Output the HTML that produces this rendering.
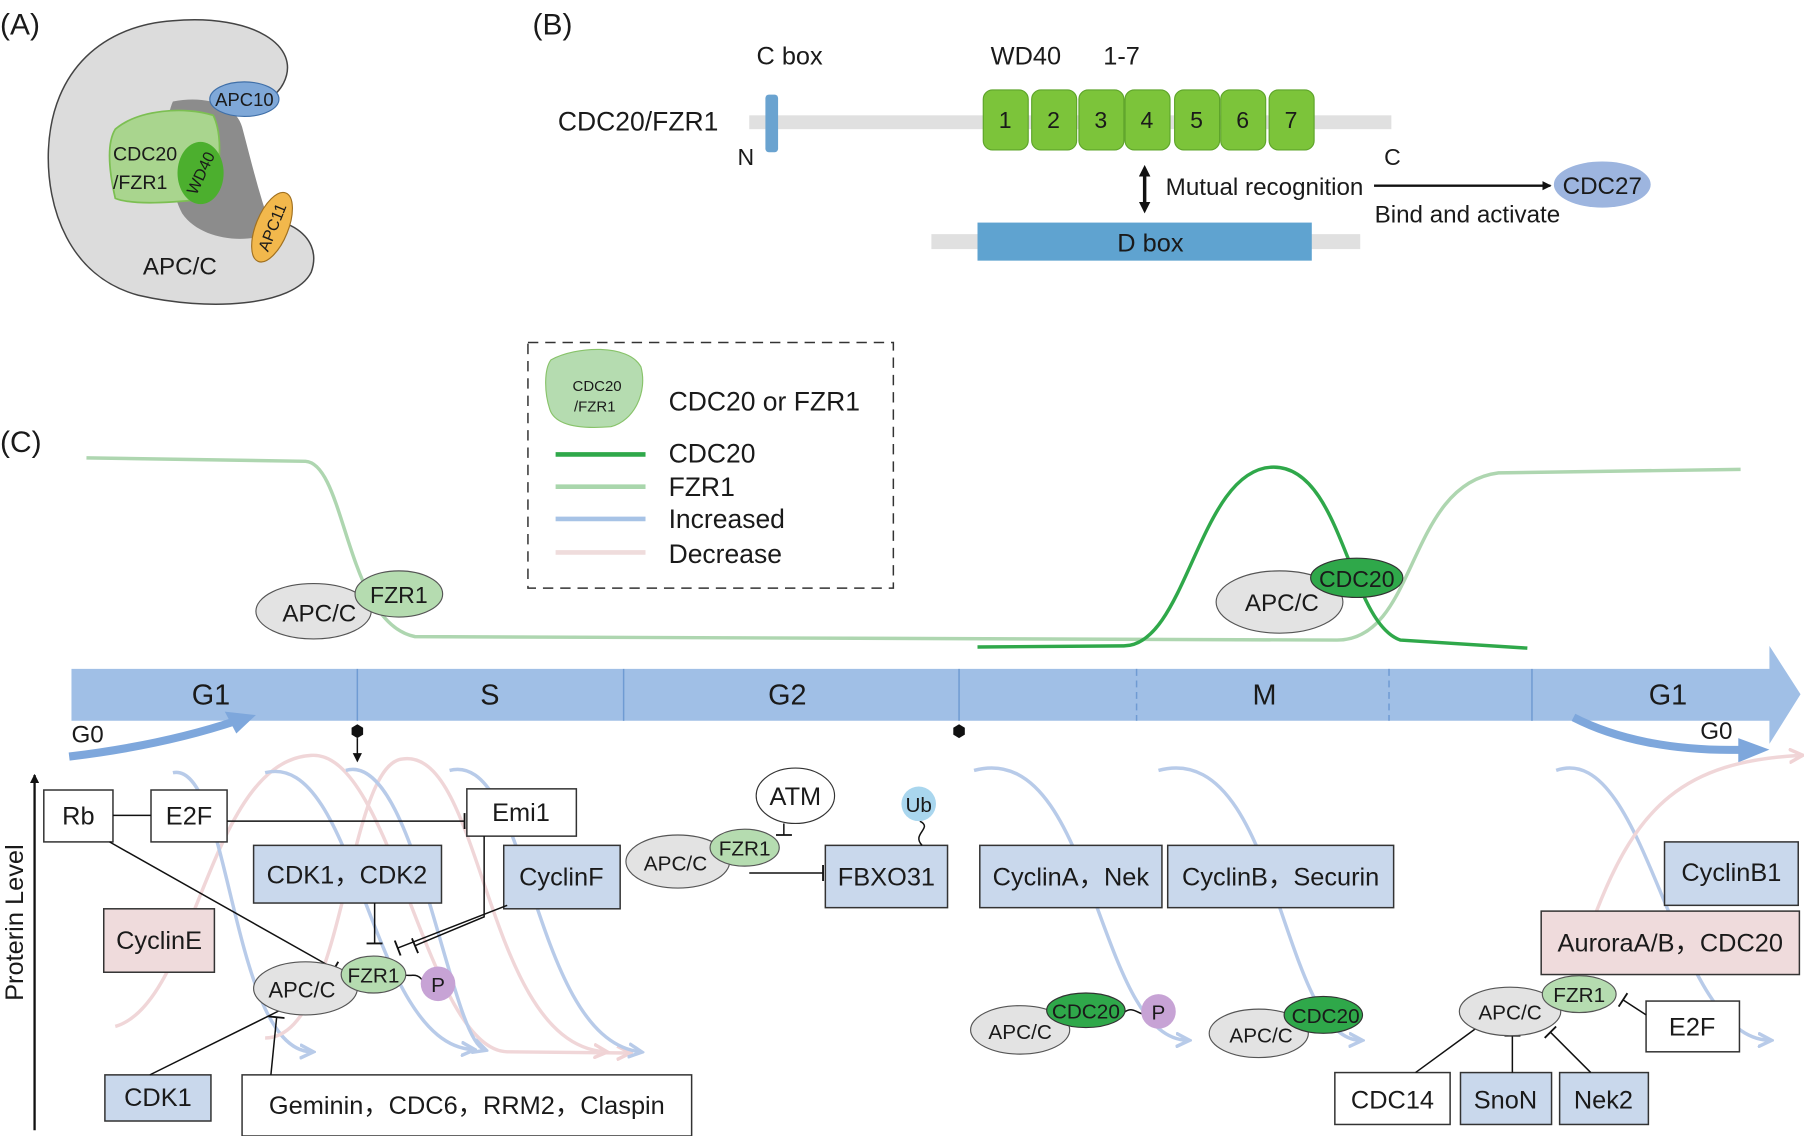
<!DOCTYPE html>
<html><head><meta charset="utf-8"><style>
html,body{margin:0;padding:0;background:#fff}
svg{display:block}
text{font-family:"Liberation Sans",Arial,sans-serif;fill:#1a1a1a}
</style></head><body>
<svg width="1804" height="1136" viewBox="0 0 1565 985" preserveAspectRatio="none" xmlns="http://www.w3.org/2000/svg">
<defs>
<marker id="ab" markerWidth="8" markerHeight="8" refX="7" refY="4" orient="auto" markerUnits="userSpaceOnUse"><path d="M0,0 L8,4 L0,8 Z" fill="#111"/></marker>
<marker id="abs" markerWidth="10" markerHeight="10" refX="5" refY="5" orient="auto-start-reverse" markerUnits="userSpaceOnUse"><path d="M0,0 L10,5 L0,10 Z" fill="#111"/></marker>
<marker id="bl" markerWidth="14" markerHeight="14" refX="10" refY="7" orient="auto" markerUnits="userSpaceOnUse"><path d="M0,1 L12,7 L0,13" fill="none" stroke="#b8cbe9" stroke-width="3"/></marker>
<marker id="pk" markerWidth="14" markerHeight="14" refX="10" refY="7" orient="auto" markerUnits="userSpaceOnUse"><path d="M0,1 L12,7 L0,13" fill="none" stroke="#f0d3d5" stroke-width="3"/></marker>
<marker id="tb" markerWidth="4" markerHeight="14" refX="2" refY="7" orient="auto" markerUnits="userSpaceOnUse"><path d="M2,0 L2,14" stroke="#111" stroke-width="1.6"/></marker>
</defs>

<text x="0" y="30" font-size="26">(A)</text>
<text x="462" y="30" font-size="26">(B)</text>
<text x="0" y="392" font-size="26">(C)</text>

<path d="M150,18 C220,12 262,40 246,72 C234,96 200,92 186,110 L200,190 C242,182 282,202 270,236 C255,266 180,270 120,256 C60,240 40,180 42,130 C45,60 90,22 150,18 Z" fill="#dcdcdc" stroke="#444" stroke-width="1.3"/>
<path d="M150,88 C180,82 205,92 210,110 C218,140 225,170 236,200 C220,212 175,210 158,185 C145,160 140,110 150,88 Z" fill="#8c8c8c"/>
<path d="M100,112 C120,95 160,92 185,100 C195,120 190,160 180,172 C150,176 115,178 100,172 C95,150 92,125 100,112 Z" fill="#a9d58e" stroke="#7cbf52" stroke-width="1.5"/>
<ellipse cx="174" cy="150" rx="20" ry="27" fill="#4caf2e"/>
<text x="174" y="155" font-size="14" transform="rotate(-65 174 150)" text-anchor="middle">WD40</text>
<text x="98" y="139" font-size="17">CDC20</text>
<text x="98" y="164" font-size="17">/FZR1</text>
<ellipse cx="212" cy="86" rx="30" ry="15" fill="#7fa8d8" stroke="#3f6fa8"/>
<text x="212" y="92" font-size="16" text-anchor="middle">APC10</text>
<ellipse cx="236" cy="197" rx="32" ry="14" fill="#f2b84c" stroke="#a07020" transform="rotate(-68 236 197)"/>
<text x="236" y="202" font-size="14" text-anchor="middle" transform="rotate(-68 236 197)">APC11</text>
<text x="156" y="238" font-size="21" text-anchor="middle">APC/C</text>

<rect x="650" y="100" width="557" height="12" fill="#e0e0e0"/>
<rect x="664" y="82" width="11" height="50" rx="3" fill="#6aa3d0"/>
<text x="685" y="56" font-size="22" text-anchor="middle">C box</text>
<text x="890" y="56" font-size="22" text-anchor="middle">WD40</text>
<text x="973" y="56" font-size="22" text-anchor="middle">1-7</text>
<text x="484" y="113" font-size="23">CDC20/FZR1</text>
<text x="647" y="143" font-size="20" text-anchor="middle">N</text>
<text x="1208" y="143" font-size="20" text-anchor="middle">C</text>
<g fill="#7cc43a" stroke="#5ea42a">
<rect x="853" y="78" width="39" height="52" rx="8"/><rect x="895" y="78" width="39" height="52" rx="8"/><rect x="936" y="78" width="39" height="52" rx="8"/><rect x="976" y="78" width="39" height="52" rx="8"/><rect x="1019" y="78" width="39" height="52" rx="8"/><rect x="1059" y="78" width="39" height="52" rx="8"/><rect x="1101" y="78" width="39" height="52" rx="8"/>
</g>
<g font-size="20" text-anchor="middle">
<text x="872" y="111">1</text><text x="914" y="111">2</text><text x="955" y="111">3</text><text x="995" y="111">4</text><text x="1038" y="111">5</text><text x="1078" y="111">6</text><text x="1120" y="111">7</text>
</g>
<line x1="993" y1="148" x2="993" y2="180" stroke="#111" stroke-width="3" marker-start="url(#abs)" marker-end="url(#abs)"/>
<text x="1097" y="169" font-size="21" text-anchor="middle">Mutual recognition</text>
<line x1="1192" y1="161" x2="1345" y2="161" stroke="#111" stroke-width="2" marker-end="url(#ab)"/>
<ellipse cx="1390" cy="160" rx="42" ry="20" fill="#9db5df"/>
<text x="1390" y="168" font-size="21" text-anchor="middle">CDC27</text>
<text x="1273" y="193" font-size="21" text-anchor="middle">Bind and activate</text>
<rect x="808" y="203" width="372" height="13" fill="#e0e0e0"/>
<rect x="848" y="193" width="290" height="33" fill="#5fa3d0"/>
<text x="998" y="218" font-size="22" text-anchor="middle">D box</text>

<rect x="458" y="297" width="317" height="213" fill="none" stroke="#333" stroke-width="1.3" stroke-dasharray="9,6"/>
<path d="M478,312 C500,300 545,298 556,318 C562,340 550,365 530,370 C505,372 482,370 477,355 C472,340 472,320 478,312 Z" fill="#b5dcb0" stroke="#88c36a"/>
<text x="518" y="339" font-size="13" text-anchor="middle">CDC20</text>
<text x="516" y="357" font-size="13" text-anchor="middle">/FZR1</text>
<text x="580" y="356" font-size="23">CDC20 or FZR1</text>
<line x1="482" y1="394" x2="560" y2="394" stroke="#2fa84a" stroke-width="4"/>
<text x="580" y="401" font-size="23">CDC20</text>
<line x1="482" y1="422" x2="560" y2="422" stroke="#a9d6ac" stroke-width="4"/>
<text x="580" y="430" font-size="23">FZR1</text>
<line x1="482" y1="450" x2="560" y2="450" stroke="#a7c3e6" stroke-width="4"/>
<text x="580" y="458" font-size="23">Increased</text>
<line x1="482" y1="479" x2="560" y2="479" stroke="#efdcdc" stroke-width="4"/>
<text x="580" y="488" font-size="23">Decrease</text>

<path d="M75,397 L265,400 C300,402 300,540 360,552 L1160,555 C1230,555 1220,420 1300,410 L1510,407" fill="none" stroke="#aed6b0" stroke-width="3"/>
<path d="M848,561 L975,560 C1030,560 1040,405 1105,405 C1165,405 1170,540 1215,555 L1325,562" fill="none" stroke="#2fa84a" stroke-width="3"/>

<ellipse cx="272" cy="530" rx="50" ry="24" fill="#e3e3e3" stroke="#555"/>
<text x="277" y="539" font-size="21" text-anchor="middle">APC/C</text>
<ellipse cx="346" cy="515" rx="38" ry="20" fill="#b5dcb0" stroke="#555"/>
<text x="346" y="523" font-size="20" text-anchor="middle">FZR1</text>
<ellipse cx="1110" cy="522" rx="55" ry="27" fill="#e3e3e3" stroke="#555"/>
<text x="1112" y="530" font-size="21" text-anchor="middle">APC/C</text>
<ellipse cx="1177" cy="501" rx="40" ry="17" fill="#2fa84a" stroke="#333"/>
<text x="1177" y="509" font-size="20" text-anchor="middle">CDC20</text>

<path d="M62,580 L1535,580 L1535,560 L1562,602 L1535,645 L1535,625 L62,625 Z" fill="#a0bfe6"/>
<g stroke="#6f9bd3" stroke-width="1.3">
<line x1="310" y1="580" x2="310" y2="625"/><line x1="541" y1="580" x2="541" y2="625"/><line x1="832" y1="580" x2="832" y2="625"/><line x1="1329" y1="580" x2="1329" y2="625"/>
<line x1="986" y1="580" x2="986" y2="625" stroke-dasharray="6,4"/><line x1="1205" y1="580" x2="1205" y2="625" stroke-dasharray="6,4"/>
</g>
<g font-size="25" text-anchor="middle">
<text x="183" y="611">G1</text><text x="425" y="611">S</text><text x="683" y="611">G2</text><text x="1097" y="611">M</text><text x="1447" y="611">G1</text>
</g>
<path d="M60,656 C110,650 160,640 205,625" fill="none" stroke="#7ea7dc" stroke-width="7"/>
<path d="M195,617 L222,620 L205,636 Z" fill="#7ea7dc"/>
<text x="62" y="644" font-size="21">G0</text>
<path d="M1365,622 C1400,640 1450,652 1515,650" fill="none" stroke="#7ea7dc" stroke-width="7"/>
<path d="M1508,640 L1535,650 L1508,661 Z" fill="#7ea7dc"/>
<text x="1475" y="641" font-size="21">G0</text>

<path d="M310,628 L315,631 L315,637 L310,640 L305,637 L305,631 Z" fill="#111"/>
<line x1="310" y1="640" x2="310" y2="660" stroke="#111" stroke-width="1.3" marker-end="url(#ab)"/>
<path d="M832,628 L837,631 L837,637 L832,640 L827,637 L827,631 Z" fill="#111"/>

<g fill="none" stroke-width="3">
<path d="M100,890 C170,870 180,660 270,655 C340,650 370,910 440,912 L545,913" stroke="#f0d6d8" marker-end="url(#pk)"/>
<path d="M150,670 C200,660 200,910 270,912" stroke="#b8cbe9" marker-end="url(#bl)"/>
<path d="M230,670 C310,650 320,905 410,910" stroke="#b8cbe9" marker-end="url(#bl)"/>
<path d="M230,900 C300,900 300,660 350,658 C420,650 420,905 525,912" stroke="#f0d6d8" marker-end="url(#pk)"/>
<path d="M300,668 C360,650 390,900 420,910" stroke="#b8cbe9" marker-end="url(#bl)"/>
<path d="M390,668 C460,650 460,900 555,912" stroke="#b8cbe9" marker-end="url(#bl)"/>
<path d="M845,668 C950,640 950,900 1030,902" stroke="#b8cbe9" marker-end="url(#bl)"/>
<path d="M1005,668 C1110,640 1110,900 1180,902" stroke="#b8cbe9" marker-end="url(#bl)"/>
<path d="M1350,668 C1430,640 1450,900 1535,902" stroke="#b8cbe9" marker-end="url(#bl)"/>
<path d="M1385,790 C1420,700 1460,660 1562,655" stroke="#f0d6d8" marker-end="url(#pk)"/>
</g>

<line x1="30" y1="980" x2="30" y2="672" stroke="#111" stroke-width="2" marker-end="url(#ab)"/>
<text x="20" y="800" font-size="22" text-anchor="middle" transform="rotate(-90 20 800)">Proterin Level</text>

<g stroke="#333" stroke-width="1.3">
<rect x="38" y="685" width="60" height="45" fill="#fff"/>
<rect x="131" y="685" width="66" height="45" fill="#fff"/>
<rect x="405" y="684" width="95" height="41" fill="#fff"/>
<rect x="220" y="733" width="163" height="50" fill="#c9d8ec"/>
<rect x="437" y="733" width="101" height="55" fill="#c9d8ec"/>
<rect x="90" y="788" width="96" height="55" fill="#efdbdc"/>
<rect x="91" y="932" width="92" height="40" fill="#c9d8ec"/>
<rect x="210" y="932" width="390" height="53" fill="#fff"/>
<rect x="716" y="733" width="106" height="54" fill="#c9d8ec"/>
<rect x="850" y="733" width="158" height="54" fill="#c9d8ec"/>
<rect x="1013" y="733" width="196" height="54" fill="#c9d8ec"/>
<rect x="1444" y="730" width="116" height="55" fill="#c9d8ec"/>
<rect x="1337" y="790" width="224" height="55" fill="#efdbdc"/>
<rect x="1428" y="868" width="81" height="44" fill="#fff"/>
<rect x="1158" y="930" width="100" height="45" fill="#fff"/>
<rect x="1267" y="930" width="79" height="45" fill="#c9d8ec"/>
<rect x="1353" y="930" width="77" height="45" fill="#c9d8ec"/>
</g>
<g font-size="22" text-anchor="middle">
<text x="68" y="715">Rb</text><text x="164" y="715">E2F</text><text x="452" y="712">Emi1</text>
<text x="301" y="766">CDK1，CDK2</text><text x="487" y="768">CyclinF</text><text x="138" y="823">CyclinE</text>
<text x="137" y="959">CDK1</text><text x="405" y="966">Geminin，CDC6，RRM2，Claspin</text>
<text x="769" y="768">FBXO31</text><text x="929" y="768">CyclinA，Nek</text><text x="1111" y="768">CyclinB，Securin</text>
<text x="1502" y="764">CyclinB1</text><text x="1449" y="825">AuroraA/B，CDC20</text><text x="1468" y="898">E2F</text>
<text x="1208" y="961">CDC14</text><text x="1306" y="961">SnoN</text><text x="1391" y="961">Nek2</text>
</g>

<g stroke="#111" stroke-width="1.3" fill="none">
<line x1="98" y1="707" x2="131" y2="707"/>
<line x1="197" y1="712" x2="403" y2="712" marker-end="url(#tb)"/>
<line x1="95" y1="730" x2="290" y2="840" marker-end="url(#tb)"/>
<path d="M420,725 L420,795 L360,820" marker-end="url(#tb)"/>
<line x1="325" y1="783" x2="325" y2="818" marker-end="url(#tb)"/>
<line x1="440" y1="785" x2="345" y2="822" marker-end="url(#tb)"/>
<line x1="130" y1="932" x2="245" y2="875"/>
<line x1="235" y1="932" x2="240" y2="882" marker-end="url(#tb)"/>
<line x1="680" y1="714" x2="680" y2="724" marker-end="url(#tb)"/>
<line x1="650" y1="757" x2="714" y2="757" marker-end="url(#tb)"/>
<path d="M800,733 C790,723 810,718 798,712" />
<path d="M346,843 C356,850 360,840 368,852" />
<path d="M975,878 C985,870 990,885 997,877" />
<line x1="1228" y1="930" x2="1280" y2="892"/>
<line x1="1312" y1="930" x2="1312" y2="898" marker-end="url(#tb)"/>
<line x1="1380" y1="930" x2="1345" y2="895" marker-end="url(#tb)"/>
<line x1="1428" y1="880" x2="1408" y2="867" marker-end="url(#tb)"/>
</g>

<ellipse cx="265" cy="857" rx="45" ry="23" fill="#e3e3e3" stroke="#555"/>
<text x="262" y="865" font-size="19" text-anchor="middle">APC/C</text>
<ellipse cx="324" cy="845" rx="28" ry="16" fill="#b5dcb0" stroke="#555"/>
<text x="324" y="852" font-size="18" text-anchor="middle">FZR1</text>
<circle cx="380" cy="853" r="15" fill="#c7a3d5"/>
<text x="380" y="860" font-size="18" text-anchor="middle">P</text>

<ellipse cx="690" cy="690" rx="34" ry="24" fill="#fff" stroke="#333"/>
<text x="690" y="698" font-size="22" text-anchor="middle">ATM</text>
<circle cx="797" cy="697" r="15" fill="#a9d6ee"/>
<text x="797" y="704" font-size="18" text-anchor="middle">Ub</text>
<ellipse cx="588" cy="747" rx="45" ry="23" fill="#e3e3e3" stroke="#555"/>
<text x="586" y="755" font-size="18" text-anchor="middle">APC/C</text>
<ellipse cx="646" cy="735" rx="30" ry="16" fill="#b5dcb0" stroke="#555"/>
<text x="646" y="742" font-size="18" text-anchor="middle">FZR1</text>

<ellipse cx="885" cy="893" rx="43" ry="21" fill="#e3e3e3" stroke="#555"/>
<text x="885" y="901" font-size="18" text-anchor="middle">APC/C</text>
<ellipse cx="942" cy="876" rx="34" ry="15" fill="#2fa84a" stroke="#333"/>
<text x="942" y="883" font-size="18" text-anchor="middle">CDC20</text>
<circle cx="1005" cy="877" r="15" fill="#c7a3d5"/>
<text x="1005" y="884" font-size="18" text-anchor="middle">P</text>

<ellipse cx="1092" cy="896" rx="43" ry="21" fill="#e3e3e3" stroke="#555"/>
<text x="1094" y="904" font-size="18" text-anchor="middle">APC/C</text>
<ellipse cx="1148" cy="880" rx="34" ry="16" fill="#2fa84a" stroke="#333"/>
<text x="1150" y="887" font-size="18" text-anchor="middle">CDC20</text>

<ellipse cx="1310" cy="877" rx="44" ry="21" fill="#e3e3e3" stroke="#555"/>
<text x="1310" y="884" font-size="18" text-anchor="middle">APC/C</text>
<ellipse cx="1370" cy="862" rx="32" ry="16" fill="#b5dcb0" stroke="#555"/>
<text x="1370" y="869" font-size="18" text-anchor="middle">FZR1</text>
</svg>
</body></html>
